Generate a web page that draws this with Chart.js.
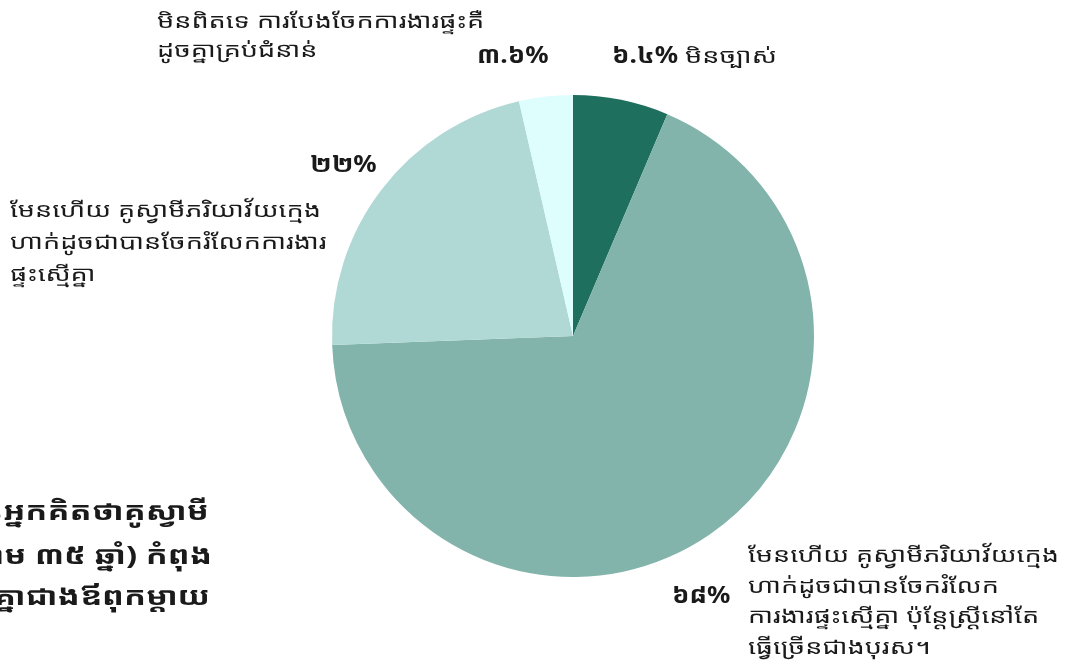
<!DOCTYPE html>
<html>
<head>
    <title>ការបែងចែកការងារផ្ទះ</title>
    <script src="https://cdn.jsdelivr.net/npm/chart.js@4.4.0/dist/chart.umd.min.js"></script>
    <style>
        html, body { margin: 0; padding: 0; background: #fff; overflow: hidden; }
        #wrap { position: relative; width: 1069px; height: 662px; }
    </style>
</head>
<body>

<div id="wrap">
    <canvas id="houseworkChart" width="1069" height="662"></canvas>
</div>

<script>
    var categories = ['មិនច្បាស់', 'មែនហើយ ប៉ុន្តែស្ត្រីធ្វើច្រើនជាង', 'មែនហើយ ស្មើគ្នា', 'មិនពិតទេ'];
    var shares = [6.4, 68, 22, 3.6];
    var shareLabels = ['៦.៤%', '៦៨%', '២២%', '៣.៦%'];
    var colours = ['rgb(31,111,95)', 'rgb(130,180,172)', 'rgb(176,217,213)', 'rgb(222,253,253)'];

    // category notes, one array of lines per slice
    var notes = [
        ['មិនច្បាស់'],
        ['មែនហើយ គូស្វាមីភរិយាវ័យក្មេង', 'ហាក់ដូចជាបានចែករំលែក', 'ការងារផ្ទះស្មើគ្នា ប៉ុន្តែស្ត្រីនៅតែ', 'ធ្វើច្រើនជាងបុរស។'],
        ['មែនហើយ គូស្វាមីភរិយាវ័យក្មេង', 'ហាក់ដូចជាបានចែករំលែកការងារ', 'ផ្ទះស្មើគ្នា'],
        ['មិនពិតទេ ការបែងចែកការងារផ្ទះគឺ', 'ដូចគ្នាគ្រប់ជំនាន់']
    ];

    var titleLines = [
        'ភាគរយនៃអ្នកគិតថាគូស្វាមី',
        'ភរិយាវ័យក្មេង (ក្រោម ៣៥ ឆ្នាំ) កំពុង',
        'ចែករំលែកការងារផ្ទះស្មើៗគ្នាជាងឪពុកម្តាយ'
    ];

    var KH = '"Noto Sans Khmer", "Noto Sans", sans-serif';

    // where each slice's percentage and note sit
    var labelLayout = [
        { pct: [612, 63], note: [685, 63], lh: 30 },
        { pct: [672, 603], note: [748, 562], lh: 30.5 },
        { pct: [310, 172], note: [10, 217], lh: 32 },
        { pct: [477, 63], note: [157, 28], lh: 29 }
    ];

    // Khmer glyphs here come out narrow, so widen them a little
    function wideText(c, text, x, y, sx) {
        c.save();
        c.translate(x, y);
        c.scale(sx, 1);
        c.fillText(text, 0, 0);
        c.restore();
    }

    var labelPlugin = {
        id: 'sliceLabels',
        afterDraw: function (chart) {
            var c = chart.ctx;
            c.save();
            c.fillStyle = '#1a1a1a';
            c.textBaseline = 'alphabetic';
            labelLayout.forEach(function (p, i) {
                c.textAlign = 'left';
                c.font = 'bold 24px ' + KH;
                wideText(c, shareLabels[i], p.pct[0], p.pct[1], 1.08);
                c.font = '21px ' + KH;
                notes[i].forEach(function (line, k) {
                    wideText(c, line, p.note[0], p.note[1] + k * p.lh, 1.29);
                });
            });

            // heading, runs off the left edge
            c.font = 'bold 25px ' + KH;
            c.textAlign = 'right';
            var ends = [[209, 520], [212, 564], [210, 605]];
            titleLines.forEach(function (line, k) {
                wideText(c, line, ends[k][0], ends[k][1], 1.3);
            });
            c.restore();
        }
    };

    var ctx = document.getElementById('houseworkChart').getContext('2d');
    var chart = new Chart(ctx, {
        type: 'pie',
        data: {
            labels: categories,
            datasets: [{
                data: shares,
                backgroundColor: colours,
                borderWidth: 0
            }]
        },
        options: {
            responsive: false,
            animation: false,
            layout: { padding: { top: 95, bottom: 85, left: 332, right: 255 } },
            plugins: {
                legend: { display: false },
                tooltip: { enabled: false }
            }
        },
        plugins: [labelPlugin]
    });
</script>
</body>
</html>
